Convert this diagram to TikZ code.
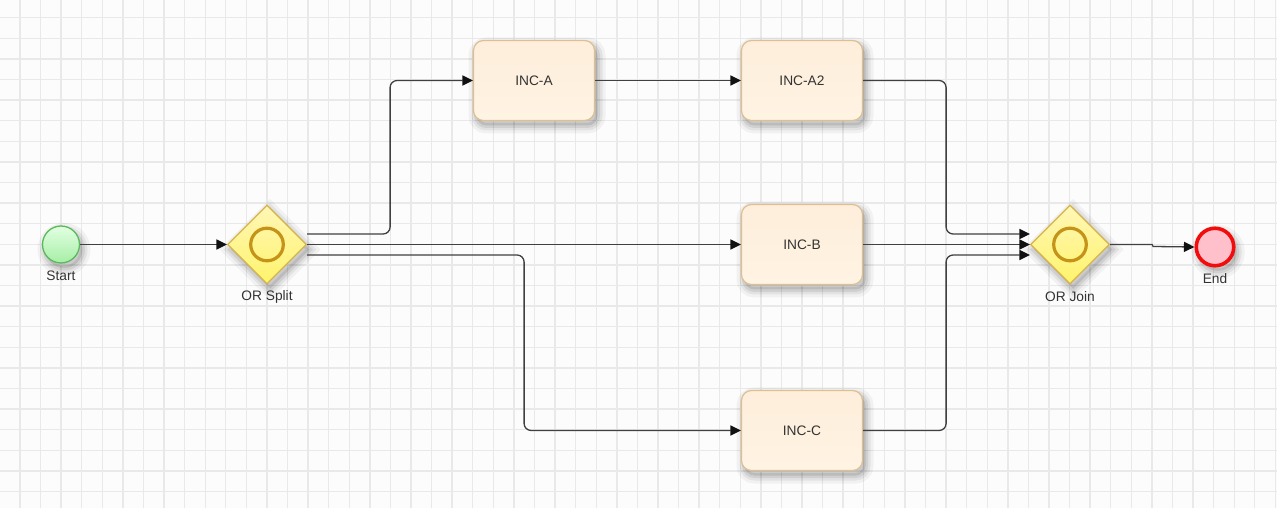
\documentclass[tikz,border=0pt]{standalone}
\usepackage{fontspec}
\setmainfont{Liberation Sans}
\usetikzlibrary{arrows.meta,shapes.geometric,calc}
\definecolor{bgc}{HTML}{FCFCFC}
\definecolor{gridc}{HTML}{E9E9E9}
\definecolor{flowc}{HTML}{404040}
\definecolor{tipc}{HTML}{111111}
\definecolor{txtc}{HTML}{333333}
\definecolor{taskborder}{HTML}{DDBF92}
\definecolor{tasktop}{HTML}{FEEEDB}
\definecolor{taskbot}{HTML}{FFF3E3}
\definecolor{gwborder}{HTML}{D6B44C}
\definecolor{gwtop}{HTML}{FFF6B8}
\definecolor{gwbot}{HTML}{FFF46A}
\definecolor{gwring}{HTML}{C49318}
\definecolor{startborder}{HTML}{5CB85C}
\definecolor{starttop}{HTML}{E2FFE2}
\definecolor{startbot}{HTML}{A6EEA6}
\definecolor{endborder}{HTML}{F20D0D}
\definecolor{endfill}{HTML}{FFC0CB}
\tikzset{
  softshadow/.style={
    preaction={draw=black,draw opacity=0.045,line width=16bp,fill=black,fill opacity=0.1,transform canvas={shift={(3bp,-5bp)}}},
    preaction={draw=black,draw opacity=0.06,line width=10bp,transform canvas={shift={(3bp,-5bp)}}},
    preaction={draw=black,draw opacity=0.08,line width=5bp,transform canvas={shift={(3bp,-5bp)}}}},
  taskbox/.style={softshadow,rectangle,rounded corners=10bp,draw=taskborder,line width=1.2bp,
    top color=tasktop,bottom color=taskbot,minimum width=121bp,minimum height=80bp,
    inner sep=0pt,text=txtc,font=\fontsize{13.8}{16}\selectfont},
  gateway/.style={softshadow,diamond,draw=gwborder,line width=1.2bp,top color=gwtop,bottom color=gwbot,
    minimum size=79bp,inner sep=0pt},
  ringstyle/.style={draw=gwring,line width=3.2bp},
  startev/.style={softshadow,circle,draw=startborder,line width=1.3bp,top color=starttop,bottom color=startbot,
    minimum size=37bp,inner sep=0pt},
  endev/.style={softshadow,circle,draw=endborder,line width=3.6bp,fill=endfill,minimum size=37.5bp,inner sep=0pt},
  lbl/.style={text=txtc,font=\fontsize{13.8}{16}\selectfont,inner sep=0pt},
  flow/.style={draw=flowc,line width=1.3bp,rounded corners=7bp,-{Triangle[length=10.5bp,width=10bp,color=tipc]}},
  gridline/.style={draw=gridc,line width=1.4bp}
}
\begin{document}
\begin{tikzpicture}[x=1bp,y=-1bp]
\useasboundingbox (0,0) rectangle (1277,508);
\fill[bgc] (0,0) rectangle (1277,508);
\foreach \i in {0,...,62} \draw[gridline] ({-0.6+20.58*\i},0) -- ({-0.6+20.58*\i},508);
\foreach \j in {0,...,25} \draw[gridline] (0,{-2.9+20.6*\j}) -- (1277,{-2.9+20.6*\j});

% nodes
\node[startev] (start) at (61,244.5) {};
\node[lbl] (startlbl) at (61,276) {Start};
\node[gateway] (split) at (267,244.5) {};
\draw[ringstyle] (split.center) circle[radius=16.3];
\node[lbl] (splitlbl) at (267,296.5) {OR Split};
\node[taskbox] (incA) at (534,80.5) {INC-A};
\node[taskbox] (incA2) at (802,80.5) {INC-A2};
\node[taskbox] (incB) at (802,244.5) {INC-B};
\node[taskbox] (incC) at (802,430.5) {INC-C};
\node[gateway] (join) at (1070,244.5) {};
\draw[ringstyle] (join.center) circle[radius=16.3];
\node[lbl] (joinlbl) at (1070,296.5) {OR Join};
\node[endev] (end) at (1215,247) {};
\node[lbl] (endlbl) at (1215,278.5) {End};

% connectors
\draw[flow] (start) -- (split);
\draw[flow] ($(split.east)+(0,-10.5)$) -- ++(83,0) |- (incA.west);
\draw[flow] (split.east) -- (incB.west);
\draw[flow] ($(split.east)+(0,10.5)$) -- ++(217,0) |- (incC.west);
\draw[flow] (incA) -- (incA2);
\draw[flow] (incA2.east) -- ++(83,0) |- ($(join.west)+(0,-10.5)$);
\draw[flow] (incB.east) -- (join.west);
\draw[flow] (incC.east) -- ++(83,0) |- ($(join.west)+(0,10.5)$);
\draw[flow,rounded corners=0pt] (join.east) -- ++(42,0) -- ++(1,2) -- (end.west);
\end{tikzpicture}
\end{document}
